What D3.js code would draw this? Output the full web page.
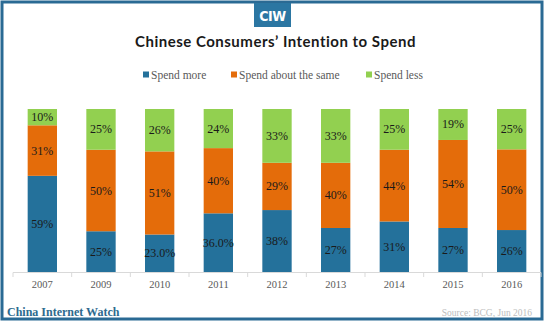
<!DOCTYPE html>
<html lang="en">
<head>
<meta charset="UTF-8">
<title>Chinese Consumers' Intention to Spend</title>
<style>
  body { margin: 0; background: #fff; }
  svg { display: block; }
  .tick-label { font: 10.5px "Liberation Serif", serif; fill: #595959; }
  .seg-label { font: 12px "Liberation Serif", serif; fill: #1a1a1a; }
  .legend text { font: 11.5px "Liberation Serif", serif; fill: #595959; }
</style>
</head>
<body>
<div id="chart"></div>
<script src="https://d3js.org/d3.v7.min.js"></script>
<script>
// data
var years = ["2007", "2009", "2010", "2011", "2012", "2013", "2014", "2015", "2016"];
var spendMore = [59, 25, 23, 36, 38, 27, 31, 27, 26];
var spendSame = [31, 50, 51, 40, 29, 40, 44, 54, 50];
var spendLess = [10, 25, 26, 24, 33, 33, 25, 19, 25];
var moreLabels = ["59%", "25%", "23.0%", "36.0%", "38%", "27%", "31%", "27%", "26%"];
var seriesNames = ["Spend more", "Spend about the same", "Spend less"];
var colors = ["#24719b", "#e46c0a", "#92d050"];

var W = 546, H = 324;
var svg = d3.select("#chart").append("svg")
    .attr("width", W).attr("height", H);

// frame
svg.append("rect")
    .attr("x", 2).attr("y", 2)
    .attr("width", 540).attr("height", 317)
    .attr("fill", "none")
    .attr("stroke", "#2a6a94")
    .attr("stroke-width", 3);

// logo
svg.append("rect")
    .attr("x", 254).attr("y", 3)
    .attr("width", 37).attr("height", 24)
    .attr("fill", "#2b76a2");
svg.append("text")
    .attr("x", 272.5).attr("y", 20.5)
    .attr("text-anchor", "middle")
    .style("font", "bold 14px 'DejaVu Sans Condensed', 'DejaVu Sans', sans-serif")
    .style("letter-spacing", "-0.5px")
    .attr("fill", "#fff")
    .text("CIW");

// title
svg.append("text")
    .attr("x", 275.5).attr("y", 46.5)
    .attr("text-anchor", "middle")
    .style("font", "bold 15px Lato, sans-serif")
    .style("letter-spacing", "0.5px")
    .attr("fill", "#1a1a1a")
    .text("Chinese Consumers\u2019 Intention to Spend");

// legend
var legendX = [143, 231, 366];
var legend = svg.append("g").attr("class", "legend")
  .selectAll("g").data(seriesNames).enter().append("g")
    .attr("transform", function(d, i) { return "translate(" + legendX[i] + ",75)"; });
legend.append("rect")
    .attr("x", 0).attr("y", -3.5)
    .attr("width", 6).attr("height", 6)
    .attr("fill", function(d, i) { return colors[i]; });
legend.append("text")
    .attr("x", 8).attr("y", 4)
    .text(function(d) { return d; });

// scales
var x = d3.scaleBand().domain(years).range([13, 541]).paddingInner(0.5).paddingOuter(0.25);
var y = d3.scaleLinear().domain([0, 1]).range([272, 109]);

var rows = years.map(function(yr, i) {
  return { year: yr, more: spendMore[i], same: spendSame[i], less: spendLess[i], i: i };
});
var stack = d3.stack().keys(["more", "same", "less"]).offset(d3.stackOffsetExpand);
var layers = stack(rows);

var g = svg.append("g");
layers.forEach(function(layer, li) {
  g.selectAll(".s" + li).data(layer).enter().append("rect")
      .attr("x", function(d) { return x(d.data.year); })
      .attr("width", x.bandwidth())
      .attr("y", function(d) { return y(d[1]); })
      .attr("height", function(d) { return y(d[0]) - y(d[1]); })
      .attr("fill", colors[li]);
  g.selectAll(".l" + li).data(layer).enter().append("text")
      .attr("class", "seg-label")
      .attr("text-anchor", "middle")
      .attr("x", function(d) { return x(d.data.year) + x.bandwidth() / 2; })
      .attr("y", function(d) { return (y(d[0]) + y(d[1])) / 2 + 4; })
      .text(function(d) {
        if (li === 0) return moreLabels[d.data.i];
        return (li === 1 ? d.data.same : d.data.less) + "%";
      });
});

// axis
var axisG = svg.append("g");
axisG.append("line")
    .attr("x1", 13).attr("x2", 541)
    .attr("y1", 272.5).attr("y2", 272.5)
    .attr("stroke", "#d9d9d9");
var step = x.step();
var bounds = years.map(function(yr) { return x(yr) - (step - x.bandwidth()) / 2; });
bounds.push(541);
axisG.selectAll(".tk").data(bounds).enter().append("line")
    .attr("x1", function(d) { return d; }).attr("x2", function(d) { return d; })
    .attr("y1", 272.5).attr("y2", 277)
    .attr("stroke", "#d9d9d9");
axisG.selectAll(".tick-label").data(years).enter().append("text")
    .attr("class", "tick-label")
    .attr("text-anchor", "middle")
    .attr("x", function(d) { return x(d) + x.bandwidth() / 2; })
    .attr("y", 288)
    .text(function(d) { return d; });

// footer
svg.append("text")
    .attr("x", 7).attr("y", 316)
    .style("font", "bold 12px 'Liberation Serif', serif")
    .attr("fill", "#2d6a8e")
    .text("China Internet Watch");
svg.append("text")
    .attr("x", 532).attr("y", 316)
    .attr("text-anchor", "end")
    .style("font", "9.5px 'Liberation Serif', serif")
    .attr("fill", "#bdbdbd")
    .text("Source: BCG, Jun 2016");
</script>
</body>
</html>
